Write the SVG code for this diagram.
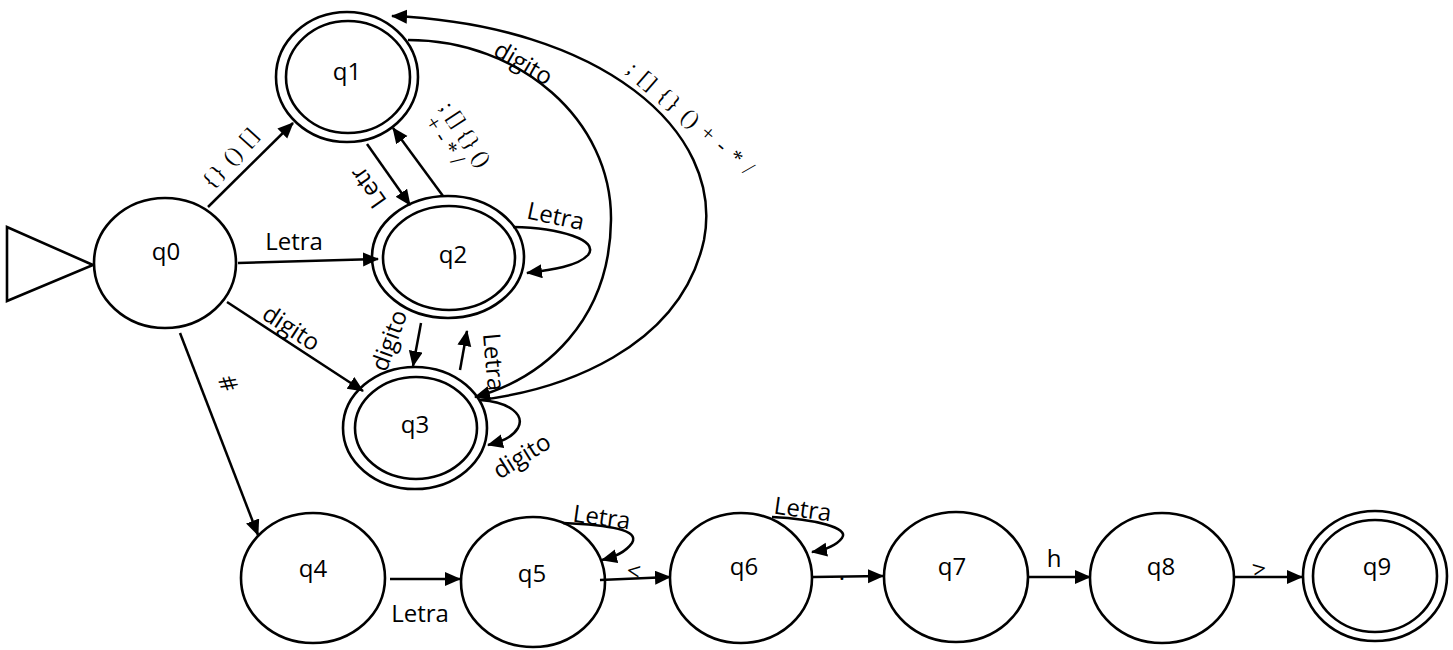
<svg xmlns="http://www.w3.org/2000/svg" width="1453" height="650" viewBox="0 0 1453 650">
<style>
.n{fill:#fff;stroke:#000;stroke-width:2.6}
.e{fill:none;stroke:#000;stroke-width:2.5}
.t{font-family:"Open Sans","Liberation Sans",sans-serif;font-size:24px;fill:#000;text-anchor:middle;dominant-baseline:central}
.s{font-family:"Liberation Serif","DejaVu Serif",serif;font-size:22px;fill:#000;text-anchor:middle;dominant-baseline:central}
</style>
<defs>
<marker id="a" markerUnits="userSpaceOnUse" markerWidth="18" markerHeight="16" refX="15" refY="7" orient="auto">
<path d="M0,0 L16,7 L0,14 z" fill="#000"/>
</marker>
</defs>
<rect width="1453" height="650" fill="#fff"/>
<g id="start"><polygon points="7,227 7,301 93,265" class="n"/></g>
<g id="q0"><ellipse cx="165" cy="263" rx="71" ry="65" class="n"/><text x="166" y="250" class="t">q0</text></g>
<g id="q1"><ellipse cx="347" cy="77" rx="71" ry="65" class="n"/><ellipse cx="348" cy="77" rx="62" ry="56" class="n"/><text x="347" y="70" class="t">q1</text></g>
<g id="q2"><ellipse cx="448" cy="257" rx="76" ry="61" class="n"/><ellipse cx="449" cy="258" rx="66" ry="52" class="n"/><text x="453" y="253" class="t">q2</text></g>
<g id="q3"><ellipse cx="415" cy="428" rx="72" ry="61" class="n"/><ellipse cx="416" cy="428" rx="61" ry="51" class="n"/><text x="415" y="423" class="t">q3</text></g>
<g id="q4"><ellipse cx="313" cy="578" rx="72" ry="65" class="n"/><text x="313" y="567" class="t">q4</text></g>
<g id="q5"><ellipse cx="533" cy="582" rx="72" ry="65" class="n"/><text x="532" y="572" class="t">q5</text></g>
<g id="q6"><ellipse cx="741" cy="578" rx="71" ry="65" class="n"/><text x="744" y="565" class="t">q6</text></g>
<g id="q7"><ellipse cx="956" cy="577" rx="72" ry="65" class="n"/><text x="952" y="565" class="t">q7</text></g>
<g id="q8"><ellipse cx="1162" cy="578" rx="72" ry="65" class="n"/><text x="1161" y="565" class="t">q8</text></g>
<g id="q9"><ellipse cx="1375" cy="576" rx="72" ry="65" class="n"/><ellipse cx="1375" cy="576" rx="62" ry="56" class="n"/><text x="1377" y="565" class="t">q9</text></g>
<g id="edges">
<path class="e" marker-end="url(#a)" d="M208,207 L293,123"/>
<path class="e" marker-end="url(#a)" d="M238,263 L378,259"/>
<path class="e" marker-end="url(#a)" d="M227,302 L363,391"/>
<path class="e" marker-end="url(#a)" d="M180,333 L258,535"/>
<path class="e" marker-end="url(#a)" d="M367,144 L410,205"/>
<path class="e" marker-end="url(#a)" d="M443,196 L393,128"/>
<path class="e" marker-end="url(#a)" d="M421,323 L413,366"/>
<path class="e" marker-end="url(#a)" d="M460,370 L467,331"/>
<path class="e" marker-end="url(#a)" d="M513,227 C560,228 600,240 588,255 C578,266 552,270 527,273"/>
<path class="e" marker-end="url(#a)" d="M480,400 C510,402 525,415 518,428 C512,438 500,442 488,445"/>
<path class="e" marker-end="url(#a)" d="M408,40 C520,40 612,120 611,220 C610,320 545,378 475,397"/>
<path class="e" marker-end="url(#a)" d="M480,400 C560,390 680,350 704,240 C725,130 600,25 392,16"/>
<path class="e" marker-end="url(#a)" d="M390,579 L460,579"/>
<path class="e" marker-end="url(#a)" d="M563,523 C610,525 640,530 632,543 C625,553 614,557 602,560"/>
<path class="e" marker-end="url(#a)" d="M600,580 L670,577"/>
<path class="e" marker-end="url(#a)" d="M772,517 C815,519 850,528 842,538 C836,546 824,550 812,552"/>
<path class="e" marker-end="url(#a)" d="M813,577 L883,576"/>
<path class="e" marker-end="url(#a)" d="M1028,577 L1090,577"/>
<path class="e" marker-end="url(#a)" d="M1235,577 L1302,577"/>
<text class="s" transform="translate(230,158) rotate(-48)" font-size="24" textLength="72" lengthAdjust="spacing">{} () []</text>
<text class="t" x="294" y="240">Letra</text>
<text class="t" transform="translate(292,327) rotate(33)">digito</text>
<text class="t" transform="translate(229,383) rotate(70)" font-size="22">#</text>
<text class="t" transform="translate(367,188) rotate(-125)">Letr</text>
<g transform="translate(466,134) rotate(57)">
<text class="s" x="0" y="0" font-size="20">; [] {} ()</text>
<text class="s" x="-6" y="21" font-size="20">+ - * /</text>
</g>
<text class="s" transform="translate(691,118) rotate(41)" font-size="24" textLength="160" lengthAdjust="spacing">; [] {} () + - * /</text>
<text class="t" transform="translate(524,62) rotate(30)">digito</text>
<text class="t" transform="translate(556,215) rotate(12)">Letra</text>
<text class="t" transform="translate(388,340) rotate(-70)">digito</text>
<text class="t" transform="translate(495,362) rotate(85)">Letra</text>
<text class="t" transform="translate(521,455) rotate(-32)">digito</text>
<text class="t" x="420" y="612">Letra</text>
<text class="t" transform="translate(602,516) rotate(8)">Letra</text>
<text class="t" transform="translate(634,570) rotate(10)" font-size="20">&lt;</text>
<text class="t" transform="translate(803,508) rotate(8)">Letra</text>
<text class="t" x="842" y="570" font-size="14">.</text>
<text class="t" x="1054" y="557">h</text>
<text class="t" transform="translate(1259,568) rotate(-10)" font-size="20">&gt;</text>
</g>
</svg>
